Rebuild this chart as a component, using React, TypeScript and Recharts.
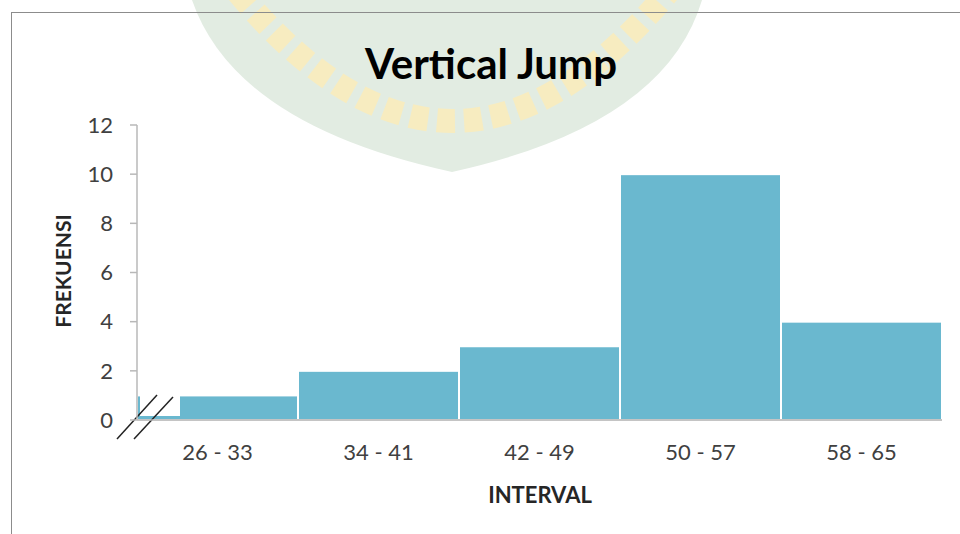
import React from 'react';
import { BarChart, Bar, XAxis, YAxis, Customized } from 'recharts';

const categories = ['26 - 33', '34 - 41', '42 - 49', '50 - 57', '58 - 65'];
const frequencies = [1, 2, 3, 10, 4];
const yTicks = [0, 2, 4, 6, 8, 10, 12];

const data = categories.map((c, i) => ({ interval: c, frekuensi: frequencies[i] }));

const FONT = 'Lato, "Open Sans", sans-serif';
const BAR_FILL = '#6AB8CF';

const BarShape = (props: any) => {
  const { x, y, width, height, index } = props;
  const bottom = y + height;
  return (
    <g>
      <rect x={x} y={y} width={width} height={height} fill={BAR_FILL} stroke="#ffffff" strokeWidth={2} />
      {index === 0 && (
        <g>
          <rect x={x + 3} y={y - 2} width={40} height={height - 2} fill="#ffffff" />
          <line x1={x - 20} y1={bottom + 19} x2={x + 20} y2={bottom - 25} stroke="#222" strokeWidth={1.5} />
          <line x1={x - 3} y1={bottom + 19} x2={x + 36} y2={bottom - 23} stroke="#222" strokeWidth={1.5} />
        </g>
      )}
    </g>
  );
};

const Watermark = () => (
  <g>
    <path d="M192,0 Q235,125 452,172 Q665,125 702,0 Z" fill="#e2ece2" />
    <path d="M238,-8 Q452,250 668,-8" fill="none" stroke="#f7ecc0" strokeWidth={24} strokeDasharray="18 9" />
  </g>
);

const Decorations = () => (
  <g>
    <line x1={11.5} y1={12} x2={11.5} y2={534} stroke="#8c8c8c" strokeWidth={1} />
    <line x1={11} y1={12.5} x2={960} y2={12.5} stroke="#8c8c8c" strokeWidth={1} />
    <text x={491} y={63} textAnchor="middle" dominantBaseline="central" fontFamily={FONT} fontWeight={700} fontSize={42} fill="#000000">
      Vertical Jump
    </text>
    <text x={62} y={271} textAnchor="middle" dominantBaseline="central" fontFamily={FONT} fontWeight={700} fontSize={21} fill="#262626" transform="rotate(-90 62 271)">
      FREKUENSI
    </text>
    <text x={540} y={494} textAnchor="middle" dominantBaseline="central" fontFamily={FONT} fontWeight={700} fontSize={22} fill="#262626">
      INTERVAL
    </text>
  </g>
);

export default function App() {
  return (
    <div style={{ position: 'absolute', left: 0, top: 0, width: 960, height: 534, background: '#ffffff' }}>
      <BarChart
        width={960}
        height={534}
        data={data}
        margin={{ top: 125, right: 18, bottom: 84, left: 77 }}
        barCategoryGap={0}
        barGap={0}
      >
        <Customized component={Watermark} />
        <Customized component={Decorations} />
        <XAxis
          dataKey="interval"
          height={30}
          axisLine={{ stroke: '#b0b0b0', strokeWidth: 1.5 }}
          tickLine={false}
          tickSize={0}
          tickMargin={24}
          tick={{ fill: '#404040', fontSize: 22, fontFamily: FONT }}
          interval={0}
        />
        <YAxis
          width={60}
          domain={[0, 12]}
          ticks={yTicks}
          interval={0}
          axisLine={{ stroke: '#b8b8b8', strokeWidth: 1.5 }}
          tickLine={{ stroke: '#b8b8b8', strokeWidth: 1.5 }}
          tickSize={7}
          tickMargin={17}
          tick={{ fill: '#404040', fontSize: 22, fontFamily: FONT }}
        />
        <Bar dataKey="frekuensi" fill={BAR_FILL} isAnimationActive={false} shape={BarShape} />
      </BarChart>
    </div>
  );
}
